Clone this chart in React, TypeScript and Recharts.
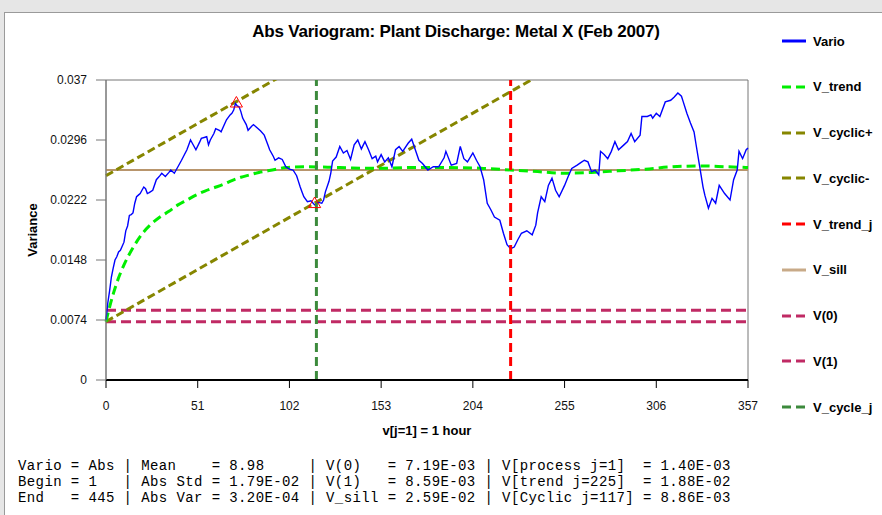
import React from 'react';
import {
  ComposedChart,
  Line,
  Scatter,
  XAxis,
  YAxis,
  ReferenceLine,
  ReferenceArea,
} from 'recharts';

const title = 'Abs Variogram: Plant Discharge: Metal X (Feb 2007)';
const xLabel = 'v[j=1] = 1 hour';
const yLabel = 'Variance';
const xTicks = [0, 51, 102, 153, 204, 255, 306, 357];
const yTicks = [0, 0.0074, 0.0148, 0.0222, 0.0296, 0.037];

const varioLag = [
  0, 1, 2, 3, 4, 5, 6, 7, 8, 9, 10, 11, 12, 13, 14, 15, 16, 17, 18, 19, 20, 21, 22, 23, 24, 26, 28, 30,
  31, 33, 35, 36, 38, 40, 42, 45, 47, 48, 50, 52, 53, 56, 57, 58, 60, 61, 63, 64, 66, 67, 69, 70, 71,
  72, 73, 74, 75, 76, 78, 79, 81, 82, 84, 86, 88, 89, 90, 91, 93, 94, 96, 98, 100, 102, 104, 106, 107,
  108, 109, 110, 112, 114, 116, 118, 120, 121, 122, 124, 125, 126, 128, 130, 132, 134, 136, 138, 140,
  142, 144, 146, 148, 150, 151, 153, 155, 157, 159, 161, 163, 165, 168, 170, 172, 174, 176, 179, 182,
  185, 188, 189, 192, 195, 197, 199, 201, 204, 206, 208, 210, 212, 214, 216, 219, 221, 223, 225, 227,
  229, 231, 234, 237, 239, 240, 242, 244, 246, 248, 250, 252, 255, 257, 259, 262, 264, 266, 268, 270,
  272, 274, 275, 277, 279, 281, 283, 285, 288, 290, 292, 294, 297, 298, 301, 303, 304, 306, 308, 311,
  314, 316, 318, 320, 321, 323, 325, 327, 328, 330, 332, 333, 335, 337, 339, 341, 344, 347, 349, 351,
  352, 354, 356, 357,
];
const varioValue = [
  0.0074, 0.0095, 0.011, 0.0127, 0.0138, 0.0148, 0.0152, 0.0158, 0.016, 0.0165, 0.017, 0.0184, 0.019,
  0.0203, 0.0204, 0.0206, 0.0218, 0.0226, 0.0228, 0.023, 0.0234, 0.0238, 0.0236, 0.023, 0.0231, 0.0234,
  0.0247, 0.0252, 0.0255, 0.0251, 0.0256, 0.0259, 0.0255, 0.0263, 0.0271, 0.0284, 0.0296, 0.0292, 0.0284,
  0.0293, 0.0298, 0.03, 0.029, 0.0296, 0.0304, 0.031, 0.0308, 0.0306, 0.0316, 0.0321, 0.0327, 0.0329,
  0.0333, 0.0341, 0.0338, 0.0337, 0.0331, 0.0323, 0.0315, 0.0308, 0.0313, 0.0315, 0.0311, 0.0307, 0.0302,
  0.0296, 0.029, 0.0284, 0.0276, 0.0271, 0.0274, 0.0272, 0.0263, 0.026, 0.0259, 0.0252, 0.0245, 0.0238,
  0.0232, 0.0226, 0.022, 0.0221, 0.0216, 0.0219, 0.0218, 0.0222, 0.0232, 0.0245, 0.0255, 0.027, 0.0275,
  0.0288, 0.028, 0.0283, 0.0272, 0.029, 0.0296, 0.0285, 0.0294, 0.0284, 0.0273, 0.0276, 0.0269, 0.0278,
  0.0269, 0.0274, 0.0263, 0.0284, 0.0288, 0.0282, 0.0292, 0.0297, 0.0284, 0.0271, 0.0267, 0.0259, 0.0263,
  0.0263, 0.0274, 0.0282, 0.0265, 0.0267, 0.0288, 0.0273, 0.0269, 0.028, 0.0271, 0.0263, 0.0247, 0.0218,
  0.021, 0.0201, 0.0197, 0.0181, 0.0167, 0.0162, 0.0164, 0.0173, 0.0181, 0.0184, 0.0179, 0.0191, 0.0206,
  0.0226, 0.022, 0.024, 0.0249, 0.0234, 0.0226, 0.024, 0.0251, 0.0261, 0.0265, 0.0268, 0.0271, 0.0269,
  0.0257, 0.0259, 0.0253, 0.0282, 0.0278, 0.0273, 0.0282, 0.0294, 0.0284, 0.029, 0.0294, 0.0304, 0.0294,
  0.0302, 0.0325, 0.0325, 0.0327, 0.0323, 0.0329, 0.0325, 0.0343, 0.0345, 0.0349, 0.0354, 0.035, 0.0343,
  0.0329, 0.0317, 0.0306, 0.0292, 0.0265, 0.0238, 0.0228, 0.0212, 0.0224, 0.0218, 0.024, 0.023, 0.0222,
  0.0247, 0.0259, 0.0282, 0.0273, 0.0284, 0.0286,
];

// fitted trend model
const trendLag = [
  0, 2, 4, 7, 10, 15, 20, 25, 30, 35, 40, 45, 50, 55, 60, 65, 70, 75, 80, 85, 90, 95, 100, 110, 130, 150,
  170, 190, 210, 225, 240, 255, 270, 285, 300, 315, 330, 345, 357,
];
const trendValue = [
  0.0072, 0.009, 0.0106, 0.0126, 0.0142, 0.0163, 0.018, 0.0192, 0.0201, 0.0208, 0.0216, 0.0222, 0.0228,
  0.0233, 0.0237, 0.0241, 0.0246, 0.025, 0.0253, 0.0256, 0.0258, 0.026, 0.0262, 0.0263, 0.0262, 0.0261,
  0.0262, 0.0262, 0.0261, 0.0259, 0.0257, 0.0255, 0.0256, 0.0258, 0.026, 0.0263, 0.0264, 0.0263, 0.0262,
];

// cyclic envelope lines (end points)
const cyclicLag = [0, 357];
const cyclicPlus = [0.0252, 0.0702];
const cyclicMinus = [0.0072, 0.0522];

// marked extremes
const peakLag = [72.5, 116];
const peakValue = [0.0341, 0.0217];

const vSill = 0.0259;
const v0 = 0.00719;
const v1 = 0.00859;
const trendJ = 225;
const cycleJ = 117;

const statsRows = [
  'Vario = Abs | Mean    = 8.98     | V(0)   = 7.19E-03 | V[process j=1]  = 1.40E-03',
  'Begin = 1   | Abs Std = 1.79E-02 | V(1)   = 8.59E-03 | V[trend j=225]  = 1.88E-02',
  'End   = 445 | Abs Var = 3.20E-04 | V_sill = 2.59E-02 | V[Cyclic j=117] = 8.86E-03',
];

const legendItems = [
  { name: 'Vario', color: '#0000ff', dashed: false },
  { name: 'V_trend', color: '#00ee00', dashed: true },
  { name: 'V_cyclic+', color: '#868600', dashed: true },
  { name: 'V_cyclic-', color: '#868600', dashed: true },
  { name: 'V_trend_j', color: '#ff0000', dashed: true },
  { name: 'V_sill', color: '#c8aa88', dashed: false },
  { name: 'V(0)', color: '#c02a64', dashed: true },
  { name: 'V(1)', color: '#c02a64', dashed: true },
  { name: 'V_cycle_j', color: '#3c8a3c', dashed: true },
];

const pairs = (xs: number[], ys: number[]) => xs.map((lag, i) => ({ lag, value: ys[i] }));

const varioData = pairs(varioLag, varioValue);
const trendData = pairs(trendLag, trendValue);
const cyclicPlusData = pairs(cyclicLag, cyclicPlus);
const cyclicMinusData = pairs(cyclicLag, cyclicMinus);
const peakData = pairs(peakLag, peakValue);

const sans = '"Liberation Sans", Arial, sans-serif';

export default function App() {
  return (
    <div style={{ position: 'absolute', left: 0, top: 0, width: 882, height: 515, background: '#e6e6e6', overflow: 'hidden' }}>
      <div
        style={{
          position: 'absolute',
          left: 4,
          top: 12,
          width: 878,
          height: 503,
          background: '#fff',
          borderLeft: '1px solid #9a9a9a',
          borderTop: '1px solid #9a9a9a',
        }}
      />
      <div
        style={{
          position: 'absolute',
          left: 230,
          width: 452,
          top: 22,
          textAlign: 'center',
          fontFamily: sans,
          fontWeight: 'bold',
          fontSize: 17,
          letterSpacing: -0.2,
          color: '#000',
        }}
      >
        {title}
      </div>

      <div style={{ position: 'absolute', left: 0, top: 0 }}>
        <ComposedChart width={882} height={515} margin={{ top: 80, right: 134, left: 16, bottom: 75 }}>
          <XAxis
            dataKey="lag"
            type="number"
            domain={[0, 357]}
            ticks={xTicks}
            height={60}
            axisLine={{ stroke: '#000', strokeWidth: 2 }}
            tickLine={{ stroke: '#000' }}
            tickSize={8}
            tickMargin={13}
            tick={{ fontSize: 12, fill: '#111', fontFamily: sans }}
            label={{ value: xLabel, position: 'insideBottom', offset: 5, style: { fontSize: 13, fontWeight: 'bold', fill: '#000', fontFamily: sans } }}
          />
          <YAxis
            type="number"
            domain={[0, 0.037]}
            ticks={yTicks}
            allowDataOverflow
            width={90}
            axisLine={{ stroke: '#777' }}
            tickLine={{ stroke: '#777' }}
            tickSize={10}
            tickMargin={9}
            tick={{ fontSize: 12, fill: '#111', fontFamily: sans }}
            label={{ value: yLabel, angle: -90, position: 'insideLeft', offset: 16, style: { textAnchor: 'middle', fontSize: 13, fontWeight: 'bold', fill: '#000', fontFamily: sans } }}
          />
          <ReferenceArea x1={0} x2={357} y1={0} y2={0.037} fill="none" stroke="#777" strokeWidth={1} />
          <ReferenceLine y={vSill} stroke="#b8956c" strokeWidth={2} />
          <ReferenceLine y={v1} stroke="#c02a64" strokeWidth={3} strokeDasharray="10 5" />
          <ReferenceLine y={v0} stroke="#c02a64" strokeWidth={3} strokeDasharray="10 5" />
          <Line data={cyclicPlusData} dataKey="value" name="V_cyclic+" type="linear" stroke="#868600" strokeWidth={3} strokeDasharray="8 4" dot={false} isAnimationActive={false} />
          <Line data={cyclicMinusData} dataKey="value" name="V_cyclic-" type="linear" stroke="#868600" strokeWidth={3} strokeDasharray="8 4" dot={false} isAnimationActive={false} />
          <Line data={trendData} dataKey="value" name="V_trend" type="monotone" stroke="#00ee00" strokeWidth={3} strokeDasharray="9 5" dot={false} isAnimationActive={false} />
          <Line data={varioData} dataKey="value" name="Vario" type="linear" stroke="#0000ff" strokeWidth={1.4} dot={false} isAnimationActive={false} />
          <Scatter data={peakData} dataKey="value" shape="triangle" fill="none" stroke="#ff0000" legendType="none" isAnimationActive={false} />
          <ReferenceLine x={cycleJ} stroke="#3c8a3c" strokeWidth={3} strokeDasharray="9 5" />
          <ReferenceLine x={trendJ} stroke="#ff0000" strokeWidth={3} strokeDasharray="9 5" />
        </ComposedChart>
      </div>

      <div style={{ position: 'absolute', left: 782, top: 34, fontFamily: sans, fontWeight: 'bold', fontSize: 13 }}>
        {legendItems.map((item) => (
          <div key={item.name} style={{ display: 'flex', alignItems: 'center', height: 14, marginBottom: 31.75 }}>
            <svg width={24} height={4} style={{ marginRight: 7 }}>
              <line
                x1={0}
                y1={2}
                x2={24}
                y2={2}
                stroke={item.color}
                strokeWidth={3}
                strokeDasharray={item.dashed ? '9 5' : undefined}
              />
            </svg>
            <span>{item.name}</span>
          </div>
        ))}
      </div>

      <div
        style={{
          position: 'absolute',
          left: 18,
          top: 458,
          fontFamily: '"Liberation Mono", "Courier New", monospace',
          fontSize: 14,
          letterSpacing: 0.4,
          lineHeight: '16px',
          whiteSpace: 'pre',
          color: '#000',
        }}
      >
        {statsRows.map((row) => (
          <div key={row}>{row}</div>
        ))}
      </div>
    </div>
  );
}
